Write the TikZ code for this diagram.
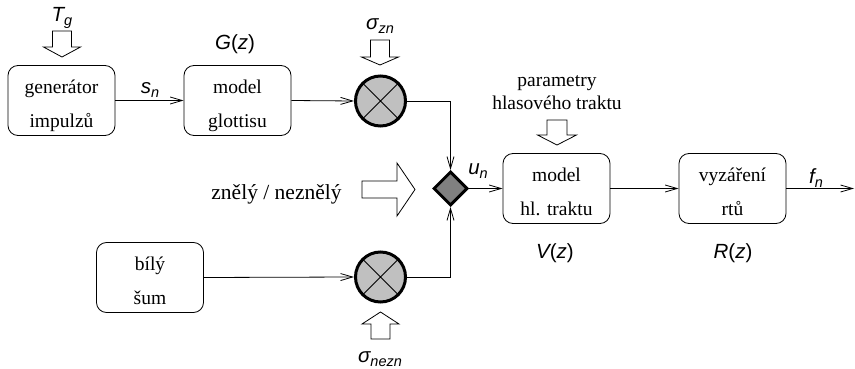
\documentclass[tikz,border=0pt]{standalone}
\usepackage{fontspec}
\setmainfont{Liberation Serif}
\newfontfamily\tfont{Liberation Serif}
\newfontfamily\lsans{Liberation Sans}
\usetikzlibrary{shapes.geometric,arrows.meta}
% italic sans variable with a lowered subscript
\newcommand\sansvar[2]{{\lsans\itshape #1\raisebox{-4.5pt}{\fontsize{14.5}{14.5}\selectfont #2}}}
% transfer function such as G(z)
\newcommand\sansfn[1]{{\lsans\itshape #1\upshape(\itshape z\upshape)}}
% two-line block caption with fixed vertical placement
\newcommand\twolines[2]{\rule{0pt}{26pt}#1\\#2\rule[-6pt]{0pt}{6pt}}
\definecolor{multgray}{RGB}{192,192,192}
\definecolor{switchgray}{RGB}{128,128,128}
\tikzset{
  block/.style={draw, rounded corners=10pt, minimum width=107pt, minimum height=70pt,
    inner sep=0pt, align=center, font=\tfont\fontsize{19.5}{34}\selectfont, line width=0.8pt},
  mult/.style={circle, draw, line width=3pt, fill=multgray, minimum size=50pt, inner sep=0pt},
  switch/.style={diamond, draw, line width=3pt, fill=switchgray, minimum size=34pt, inner sep=0pt},
  sig/.style={-{Straight Barb[length=12pt,width=7pt]}, line width=0.8pt},
  wire/.style={line width=0.8pt},
  hollow/.style={draw, line width=0.8pt, fill=white, line join=miter},
  lab/.style={inner sep=0pt, font=\fontsize{20.5}{20.5}\selectfont},
  txt/.style={inner sep=0pt, font=\tfont\fontsize{19.5}{23}\selectfont},
  pics/fatarrow/.style n args={4}{code={
    \draw[hollow] (0,-#3) -- (#1,-#3) -- (#1,-#4) -- (#1+#2,0) -- (#1,#4) -- (#1,#3) -- (0,#3) -- cycle;}}
}
\begin{document}
\begin{tikzpicture}[x=1pt,y=-1pt]
\useasboundingbox (0,0) rectangle (855,369);

% blocks
\node[block] (gen)  at (61.5,100.5) {\twolines{generátor}{impulzů}};
\node[block] (glot) at (237.5,100.5) {\twolines{model}{glottisu}};
\node[block] (noise) at (150,277.5) {\twolines{bílý}{šum}};
\node[block] (tract) at (556.5,188.5) {\twolines{model}{hl. traktu}};
\node[block] (lips) at (732.5,188.5) {\twolines{vyzáření}{rtů}};

% multipliers and switch
\node[mult] (mz) at (380.5,101) {};
\node[mult] (mn) at (380.5,277) {};
\draw[wire] (mz.north west) -- (mz.south east) (mz.north east) -- (mz.south west);
\draw[wire] (mn.north west) -- (mn.south east) (mn.north east) -- (mn.south west);
\node[switch] (sw) at (450.5,188.5) {};

\coordinate (out) at (854,188.5);

% signal path
\draw[sig] (gen.east) -- (glot.west);
\draw[sig] (glot.east) -- (mz.west);
\draw[sig] (mz.east) -| (sw.north);
\draw[sig] (noise.east) -- (mn.west);
\draw[sig] (mn.east) -| (sw.south);
\draw[sig] (sw.east) -- (tract.west);
\draw[sig] (tract.east) -- (lips.west);
\draw[sig] (lips.east) -- (out);

% control inputs
\pic[rotate=-90] at (62,31) {fatarrow={16}{10}{9.5}{18.5}};
\pic[rotate=-90] at (380,40) {fatarrow={17}{8}{9.5}{18.5}};
\pic[rotate=-90] at (557,120) {fatarrow={15}{10}{10}{19.5}};
\pic[rotate=90] at (380.5,339) {fatarrow={15}{12}{9.5}{18.5}};
\pic at (362,189.5) {fatarrow={35}{18}{8.5}{26.5}};

% labels
\node[lab] (tg) at (62,18) {\sansvar{T}{g}};
\node[lab] (gz) at (235,44) {\sansfn{G}};
\node[lab] (szn) at (380,26) {\sansvar{σ}{zn}};
\node[lab] (sn) at (150,90) {\sansvar{s}{n}};
\node[lab] (un) at (478,171) {\sansvar{u}{n}};
\node[lab] (fn) at (816,178) {\sansvar{f}{n}};
\node[lab] (vz) at (555,253) {\sansfn{V}};
\node[lab] (rz) at (733,253) {\sansfn{R}};
\node[lab] (snezn) at (380,359) {\sansvar{σ}{nezn}};
\node[txt, anchor=base] (par1) at (557,87) {parametry};
\node[txt, anchor=base] (par2) at (557,110) {hlasového traktu};
\node[txt, anchor=base, font=\tfont\fontsize{21.5}{23}\selectfont] (vuv) at (276.5,199) {znělý / neznělý};
\end{tikzpicture}
\end{document}
